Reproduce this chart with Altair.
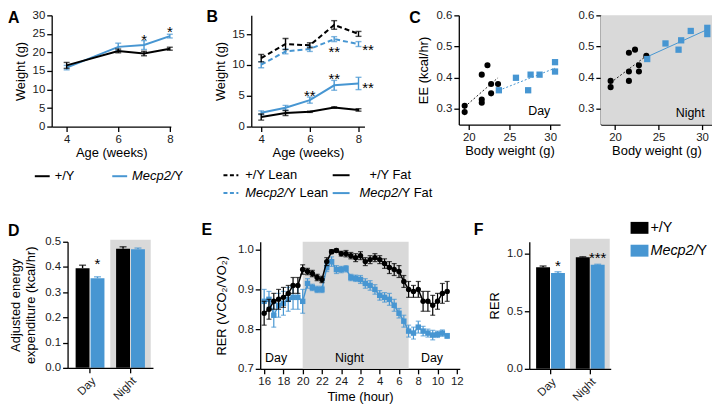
import altair as alt
import pandas as pd

FONT = "Liberation Sans"
BLUE = "#4796d2"
BLACK = "#000000"
GREY = "#d9d9d9"

# ---------------- data ----------------
# Panel A
a_weeks = [4, 6, 7, 8]
a_wt = [16.5, 20.4, 19.7, 21.0]
a_wt_err = [0.8, 0.5, 0.6, 0.4]
a_mut = [15.9, 21.5, 22.0, 24.4]
a_mut_err = [0.6, 1.0, 1.2, 0.5]
a_star_x = [7, 8]
a_star_y = [23.4, 25.5]
a_star_txt = ["*", "*"]

# Panel B
b_weeks = [4, 5, 6, 7, 8]
b_wt_lean = [11.1, 13.4, 13.2, 16.5, 15.05]
b_wt_lean_err = [0.6, 0.9, 0.4, 0.7, 0.4]
b_mut_lean = [10.05, 12.2, 12.6, 14.2, 13.4]
b_mut_lean_err = [0.5, 0.4, 0.4, 0.4, 0.4]
b_wt_fat = [1.55, 2.2, 2.4, 3.1, 2.7]
b_wt_fat_err = [0.5, 0.4, 0.1, 0.1, 0.2]
b_mut_fat = [2.25, 3.05, 4.3, 6.7, 7.0]
b_mut_fat_err = [0.3, 0.4, 0.5, 0.8, 1.0]
b_star_x = [6, 7, 7, 8.39, 8.39]
b_star_y = [5.0, 7.7, 12.1, 12.4, 6.3]
b_star_txt = ["**", "**", "**", "**", "**"]

# Panel C
c_wt_bw = [19.5, 19.5, 21.6, 21.6, 21.6, 22.3, 22.75, 22.75, 23.6]
c_wt_day = [0.31, 0.29, 0.41, 0.33, 0.32, 0.44, 0.38, 0.35, 0.38]
c_wt_night = [0.39, 0.37, 0.48, 0.42, 0.39, 0.49, 0.44, 0.42, 0.47]
c_mut_bw = [23.7, 25.8, 27.3, 27.6, 28.7, 30.6, 30.6]
c_mut_day = [0.36, 0.40, 0.36, 0.41, 0.41, 0.45, 0.42]
c_mut_night = [0.46, 0.51, 0.49, 0.52, 0.55, 0.56, 0.54]

# Panels D and F
periods = ["Day", "Night"]
genotypes = ["+/Y", "Mecp2/Y"]
d_wt = [0.395, 0.472]
d_wt_err = [0.012, 0.008]
d_mut = [0.355, 0.470]
d_mut_err = [0.006, 0.005]
d_star_p = ["Day"]
d_star_y = [0.413]
d_star_txt = ["*"]

f_wt = [0.88, 0.965]
f_wt_err = [0.01, 0.005]
f_mut = [0.83, 0.90]
f_mut_err = [0.01, 0.005]
f_star_p = ["Day", "Night"]
f_star_y = [0.893, 0.962]
f_star_txt = ["*", "***"]

# Panel E
e_hours = [16.0, 16.5, 17.0, 17.5, 18.0, 18.5, 19.0, 19.5, 20.0, 20.5, 21.0, 21.5, 22.0,
           22.5, 23.0, 23.5, 24.0, 24.5, 25.0, 25.5, 26.0, 26.5, 27.0, 27.5, 28.0, 28.5,
           29.0, 29.5, 30.0, 30.5, 31.0, 31.5, 32.0, 32.5, 33.0, 33.5, 34.0, 34.5, 35.0]
e_wt = [0.84, 0.85, 0.87, 0.875, 0.88, 0.89, 0.91, 0.91, 0.95, 0.945, 0.94, 0.93, 0.925,
        0.97, 0.995, 0.998, 0.99, 0.99, 0.985, 0.98, 0.985, 0.97, 0.975, 0.98, 0.975, 0.965,
        0.955, 0.95, 0.945, 0.92, 0.90, 0.895, 0.90, 0.87, 0.87, 0.86, 0.87, 0.89, 0.895]
e_wt_err = [0.03, 0.025, 0.02, 0.025, 0.025, 0.02, 0.02, 0.02, 0.012, 0.008, 0.008, 0.008, 0.008,
            0.01, 0.005, 0.004, 0.006, 0.008, 0.008, 0.01, 0.01, 0.01, 0.01, 0.01, 0.01, 0.012,
            0.015, 0.015, 0.015, 0.015, 0.02, 0.015, 0.02, 0.025, 0.025, 0.025, 0.02, 0.025, 0.025]
e_mut = [0.87, 0.875, 0.835, 0.86, 0.865, 0.875, 0.88, 0.88, 0.87, 0.915, 0.905, 0.90, 0.90,
         0.955, 0.97, 0.95, 0.95, 0.952, 0.93, 0.928, 0.925, 0.915, 0.91, 0.90, 0.885, 0.88,
         0.875, 0.86, 0.84, 0.82, 0.795, 0.79, 0.805, 0.795, 0.79, 0.785, 0.787, 0.79, 0.783]
e_mut_err = [0.03, 0.02, 0.03, 0.03, 0.03, 0.03, 0.03, 0.03, 0.03, 0.012, 0.008, 0.008, 0.008,
             0.01, 0.012, 0.01, 0.008, 0.008, 0.008, 0.008, 0.01, 0.012, 0.012, 0.012, 0.012, 0.012,
             0.015, 0.015, 0.012, 0.015, 0.015, 0.015, 0.015, 0.012, 0.01, 0.012, 0.008, 0.008, 0.006]
e_night = [20, 31]
e_ticks = [16, 18, 20, 22, 24, 26, 28, 30, 32, 34, 36]

# ---------------- helpers ----------------
one = pd.DataFrame({"k": [0]})


def txt(s, x, y, size=13, weight="normal", style="normal", align="left", baseline="middle"):
    return alt.Chart(one).mark_text(
        text=s, font=FONT, fontSize=size, fontWeight=weight, fontStyle=style,
        align=align, baseline=baseline, color="black"
    ).encode(x=alt.value(x), y=alt.value(y))


def seg(x1, x2, y, color, width=2, dash=None):
    kw = dict(color=color, strokeWidth=width)
    if dash is not None:
        kw["strokeDash"] = dash
    return alt.Chart(one).mark_rule(**kw).encode(x=alt.value(x1), x2=alt.value(x2), y=alt.value(y))


def box(x1, x2, y1, y2, color):
    return alt.Chart(one).mark_rect(color=color).encode(
        x=alt.value(x1), x2=alt.value(x2), y=alt.value(y1), y2=alt.value(y2))


def letter(s, x, y):
    return txt(s, x, y, size=16, weight="bold", baseline="top")


def errline(xv, mv, ev, X, Y, color, dash=None, lw=2.0, cap=6, cw=1.4, shape=None, msize=30):
    df = pd.DataFrame({"x": xv, "m": mv,
                       "lo": [m - e for m, e in zip(mv, ev)],
                       "hi": [m + e for m, e in zip(mv, ev)]})
    lk = dict(color=color, strokeWidth=lw)
    if dash is not None:
        lk["strokeDash"] = dash
    base = alt.Chart(df)
    out = [
        base.mark_rule(color=color, strokeWidth=cw).encode(x=X("x"), y=Y("lo"), y2=alt.Y2("hi")),
        base.mark_tick(color=color, orient="horizontal", size=cap, thickness=cw).encode(x=X("x"), y=Y("hi")),
        base.mark_tick(color=color, orient="horizontal", size=cap, thickness=cw).encode(x=X("x"), y=Y("lo")),
        base.mark_line(**lk).encode(x=X("x"), y=Y("m")),
    ]
    if shape is not None:
        out.append(base.mark_point(shape=shape, filled=True, size=msize, color=color, opacity=1)
                   .encode(x=X("x"), y=Y("m")))
    return out


def qaxes(xdom, ydom, xaxis, yaxis):
    xs = alt.Scale(domain=xdom, nice=False, zero=False)
    ys = alt.Scale(domain=ydom, nice=False, zero=False)
    X = lambda f: alt.X(f, type="quantitative", scale=xs, axis=xaxis)
    Y = lambda f: alt.Y(f, type="quantitative", scale=ys, axis=yaxis)
    return X, Y


def spacer(w, h=112):
    return alt.Chart(one).mark_point(opacity=0).properties(width=w, height=h)


# ---------------- Panel A ----------------
XA, YA = qaxes([3.42, 8.04], [0, 30],
               alt.Axis(values=[4, 6, 8], title="Age (weeks)", titlePadding=2),
               alt.Axis(values=[0, 5, 10, 15, 20, 25, 30], title="Weight (g)", titlePadding=5))
starsA = alt.Chart(pd.DataFrame({"x": a_star_x, "y": a_star_y, "t": a_star_txt})).mark_text(
    font=FONT, fontSize=15, color="black").encode(x=XA("x"), y=YA("y"), text="t:N")
panelA = alt.layer(
    *errline(a_weeks, a_mut, a_mut_err, XA, YA, BLUE),
    *errline(a_weeks, a_wt, a_wt_err, XA, YA, BLACK),
    starsA,
    seg(-17, -2, 162, BLACK), txt("+/Y", 3, 162),
    seg(61, 76, 162, BLUE), txt("Mecp2/", 81, 162, style="italic"), txt("Y", 123.6, 162),
    letter("A", -44, -5),
).properties(width=120, height=112)

# ---------------- Panel B ----------------
XB, YB = qaxes([3.592, 8.245], [0, 18.06],
               alt.Axis(values=[4, 6, 8], title="Age (weeks)", titlePadding=2),
               alt.Axis(values=[0, 5, 10, 15], title="Weight (g)", titlePadding=4))
DASH = [5, 3]
starsB = alt.Chart(pd.DataFrame({"x": b_star_x, "y": b_star_y, "t": b_star_txt})).mark_text(
    font=FONT, fontSize=15, color="black").encode(x=XB("x"), y=YB("y"), text="t:N")
panelB = alt.layer(
    *errline(b_weeks, b_mut_lean, b_mut_lean_err, XB, YB, BLUE, dash=DASH),
    *errline(b_weeks, b_wt_lean, b_wt_lean_err, XB, YB, BLACK, dash=DASH),
    *errline(b_weeks, b_mut_fat, b_mut_fat_err, XB, YB, BLUE),
    *errline(b_weeks, b_wt_fat, b_wt_fat_err, XB, YB, BLACK),
    starsB,
    seg(-28, -13, 161, BLACK, dash=[4, 2.5]), txt("+/Y Lean", -6, 161),
    seg(-28, -13, 179, BLUE, dash=[4, 2.5]), txt("Mecp2/", -6, 179, style="italic"), txt("Y Lean", 36.6, 179),
    seg(82, 99, 161, BLACK), txt("+/Y Fat", 119, 161),
    seg(82, 99, 179, BLUE), txt("Mecp2/", 109, 179, style="italic"), txt("Y Fat", 151.6, 179),
    letter("B", -45, -6),
).properties(width=114, height=112)


# ---------------- Panel C ----------------
def cpanel(X, Y, wt_y, mut_y, mut_dash):
    dfb = pd.DataFrame({"bw": c_wt_bw, "ee": wt_y})
    dfm = pd.DataFrame({"bw": c_mut_bw, "ee": mut_y})
    mk = dict(color=BLUE, strokeWidth=1)
    if mut_dash is not None:
        mk["strokeDash"] = mut_dash
    return [
        alt.Chart(dfb).transform_regression("bw", "ee").mark_line(
            color="#222222", strokeWidth=1, strokeDash=[2, 2]).encode(x=X("bw"), y=Y("ee")),
        alt.Chart(dfm).transform_regression("bw", "ee").mark_line(**mk).encode(x=X("bw"), y=Y("ee")),
        alt.Chart(dfb).mark_point(shape="circle", filled=True, size=38, color=BLACK, opacity=1).encode(
            x=X("bw"), y=Y("ee")),
        alt.Chart(dfm).mark_point(shape="square", filled=True, size=40, color=BLUE, opacity=1).encode(
            x=X("bw"), y=Y("ee")),
    ]


c_yticks = [0.3, 0.4, 0.5, 0.6]
XCd, YCd = qaxes([18.78, 31.22], [0.25, 0.6],
                 alt.Axis(values=[20, 25, 30], title="Body weight (g)", titlePadding=2),
                 alt.Axis(values=c_yticks, format=".1f", title="EE (kcal/hr)", titlePadding=5.5))
panelCd = alt.layer(
    *cpanel(XCd, YCd, c_wt_day, c_mut_day, [2, 2]),
    txt("Day", 81, 96, size=12.5, align="center"),
    letter("C", -50, -5),
).properties(width=102, height=110)

XCn, YCn = qaxes([18.37, 31.14], [0.25, 0.6],
                 alt.Axis(values=[20, 25, 30], title="Body weight (g)", titlePadding=2),
                 alt.Axis(values=c_yticks, format=".1f", title=None))
panelCn = alt.layer(
    box(0, 112, 0, 110, GREY),
    *cpanel(XCn, YCn, c_wt_night, c_mut_night, None),
    txt("Night", 90, 98, size=12.5, align="center"),
).properties(width=112, height=110)


# ---------------- Panels D and F (bars) ----------------
def barpanel(wt, wt_err, mut, mut_err, ydom, yticks, ytitle, tpad, outer, h, star_p, star_y, star_t,
             grey_top, lh=15):
    df = pd.DataFrame({
        "p": periods + periods,
        "g": [genotypes[0]] * 2 + [genotypes[1]] * 2,
        "m": wt + mut,
        "hi": [m + e for m, e in zip(wt + mut, wt_err + mut_err)],
    })
    XP = alt.X("p:N", scale=alt.Scale(domain=periods, paddingInner=0, paddingOuter=outer),
               axis=alt.Axis(title=None, labelAngle=315, labelAlign="right", labelBaseline="top"))
    XO = alt.XOffset("g:N", scale=alt.Scale(domain=genotypes, paddingInner=0.0667,
                                            paddingOuter=0.39))
    ax = alt.Axis(values=yticks, format=".1f", title=ytitle, titlePadding=tpad, titleLineHeight=lh)
    ys = alt.Scale(domain=ydom, nice=False, zero=False)
    Y = lambda f: alt.Y(f, type="quantitative", scale=ys, axis=ax)
    C = alt.Color("g:N", scale=alt.Scale(domain=genotypes, range=[BLACK, BLUE]), legend=None)
    sdf = pd.DataFrame({"p": star_p, "g": [genotypes[1]] * len(star_p), "y": star_y, "t": star_t})
    return [
        alt.Chart(pd.DataFrame({"p": ["Night"]})).mark_rect(color=GREY).encode(
            x=XP, y=alt.value(grey_top), y2=alt.value(h)),
        alt.Chart(df).mark_rule(strokeWidth=1.4).encode(x=XP, xOffset=XO, y=Y("m"), y2=alt.Y2("hi"), color=C),
        alt.Chart(df).mark_tick(orient="horizontal", size=7, thickness=1.4).encode(
            x=XP, xOffset=XO, y=Y("hi"), color=C),
        alt.Chart(df).mark_bar().encode(x=XP, xOffset=XO, y=Y("m"), color=C),
        alt.Chart(sdf).mark_text(font=FONT, fontSize=15, color="black").encode(
            x=XP, xOffset=XO, y=Y("y"), text="t:N"),
    ]


panelD = alt.layer(
    *barpanel(d_wt, d_wt_err, d_mut, d_mut_err, [0, 0.5], [0, 0.1, 0.2, 0.3, 0.4, 0.5],
              ["Adjusted energy", "expenditure (kcal/hr)"], 7.6, 0.055, 127,
              d_star_p, d_star_y, d_star_txt, -2),
    letter("D", -60, -19),
).properties(width=86, height=127)

panelF = alt.layer(
    *barpanel(f_wt, f_wt_err, f_mut, f_mut_err, [0, 1.1], [0, 0.5, 1.0], "RER", 5, 0.025, 128,
              f_star_p, f_star_y, f_star_txt, -3),
    box(102, 120, -20, -8, BLACK), txt("+/Y", 122, -14, size=14.5),
    box(102, 120, 3, 15, BLUE), txt("Mecp2/", 122, 9, size=14.5, style="italic"),
    txt("Y", 169.5, 9, size=14.5),
    letter("F", -56, -20),
).properties(width=82, height=128)

# ---------------- Panel E ----------------
XE, YE = qaxes([15.59, 36.31], [0.7, 1.02],
               alt.Axis(values=e_ticks, labelExpr="datum.value > 24 ? datum.value - 24 : datum.value",
                        title="Time (hour)", titlePadding=3),
               alt.Axis(values=[0.7, 0.8, 0.9, 1.0], format=".1f", title="RER (VCO\u2082/VO\u2082)",
                        titlePadding=9))
greyE = alt.Chart(pd.DataFrame({"s": [e_night[0]], "t": [e_night[1]]})).mark_rect(color=GREY).encode(
    x=XE("s"), x2=alt.X2("t"), y=alt.value(0), y2=alt.value(128))
panelE = alt.layer(
    greyE,
    *errline(e_hours, e_mut, e_mut_err, XE, YE, BLUE, lw=1.5, cap=5, cw=1.2, shape="square", msize=30),
    *errline(e_hours, e_wt, e_wt_err, XE, YE, BLACK, lw=1.5, cap=5, cw=1.2, shape="circle", msize=30),
    txt("Day", 16, 117, size=12.5, align="center"),
    txt("Night", 90, 117, size=12.5, align="center"),
    txt("Day", 173, 117, size=12.5, align="center"),
    letter("E", -59, -20),
).properties(width=201, height=128)

# ---------------- layout ----------------
# nested flush groups report zero height, so the row spacing carries row 1's plot height too
row1 = alt.hconcat(panelA, spacer(81), panelB, spacer(95), panelCd, spacer(41), panelCn,
                   spacing=0, bounds="flush")
row2 = alt.hconcat(spacer(16, 128), panelD, spacer(108, 128), panelE, spacer(70, 128), panelF,
                   spacing=0, bounds="flush")

chart = alt.vconcat(row1, row2, spacing=228, bounds="flush").properties(padding=0).configure(
    font=FONT).configure_view(strokeWidth=0).configure_axis(
    domainColor="black", domainWidth=1.3, tickColor="black", tickWidth=1.3, tickSize=5,
    labelFont=FONT, labelFontSize=11.5, labelColor="#1a1a1a", labelPadding=2, labelFlush=False,
    titleFont=FONT, titleFontSize=13, titleFontWeight="normal", titleColor="black", grid=False,
)

chart.save("out.html", embed_options={"renderer": "svg", "actions": False})
